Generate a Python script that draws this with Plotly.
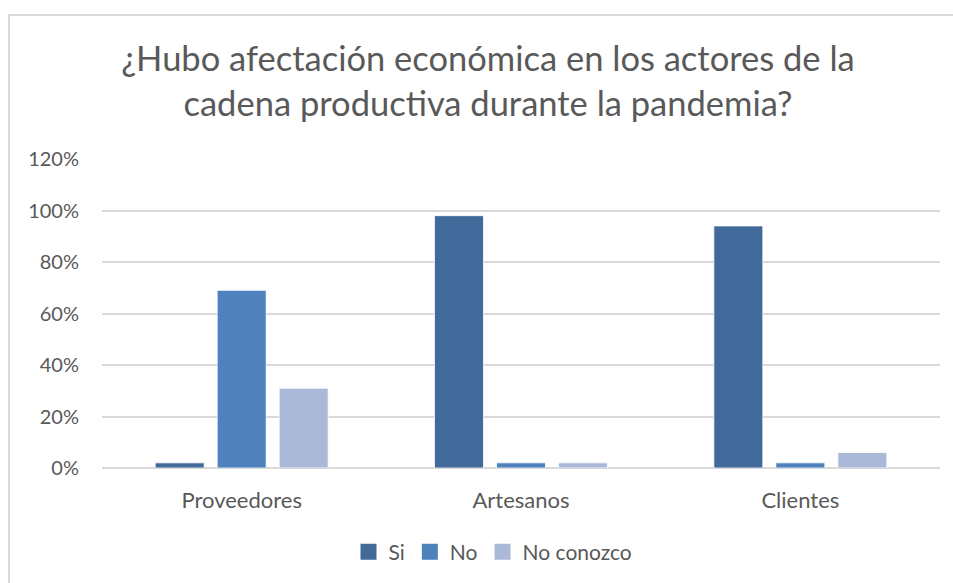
import plotly.graph_objects as go

categories = ["Proveedores", "Artesanos", "Clientes"]
si = [0.02, 0.98, 0.94]
no = [0.69, 0.02, 0.02]
no_conozco = [0.31, 0.02, 0.06]

TEXT = "#595959"
GRID = "#D9D9D9"
FONT = "Lato, Noto Sans, sans-serif"

series = [
    ("Si", si, "#41699A"),
    ("No", no, "#4F81BD"),
    ("No conozco", no_conozco, "#AAB9D7"),
]

fig = go.Figure()
for name, vals, color in series:
    fig.add_trace(go.Bar(
        x=categories, y=vals, name=name, showlegend=False,
        marker=dict(color=color, line=dict(color="white", width=0.8)),
    ))
# entradas de leyenda con cuadrados más grandes (como en Excel)
for name, vals, color in series:
    fig.add_trace(go.Scatter(
        x=[None], y=[None], name=name, mode="markers",
        marker=dict(symbol="square", size=16, color=color),
    ))

fig.update_layout(
    width=953, height=583,
    margin=dict(l=102, r=13, t=159, b=115),
    paper_bgcolor="white", plot_bgcolor="white",
    font=dict(family=FONT, size=21, color=TEXT),
    barmode="group", bargap=0.334, bargroupgap=0.21,
    title=dict(
        text="¿Hubo afectación económica en los actores de la<br>cadena productiva durante la pandemia?",
        font=dict(size=34.5, color=TEXT, family=FONT),
        x=488 / 953, xanchor="center", xref="container",
        y=1 - 71 / 583, yanchor="middle", yref="container",
    ),
    legend=dict(
        orientation="h", xref="container", yref="container",
        x=493 / 953, xanchor="center", y=1 - 552 / 583, yanchor="middle",
        font=dict(size=21, color=TEXT), itemwidth=30, tracegroupgap=0,
        itemsizing="trace",
    ),
    showlegend=True,
)

fig.update_yaxes(
    range=[0, 1.2], dtick=0.2, tickformat=".0%",
    showgrid=True, gridcolor=GRID, gridwidth=1.5,
    zeroline=True, zerolinecolor=GRID, zerolinewidth=1.5,
    showline=False, ticklabelstandoff=22, tickfont=dict(size=20, color=TEXT),
)
fig.update_xaxes(
    showgrid=False, showline=False, ticklabelstandoff=17,
    tickfont=dict(size=22, color=TEXT),
)

# marco del gráfico
fig.add_shape(
    type="rect", xref="paper", yref="paper",
    x0=(9 - 102) / 838, x1=(960 - 102) / 838,
    y0=(468 - 590) / 309, y1=(468 - 15) / 309,
    line=dict(color=GRID, width=2), fillcolor="rgba(0,0,0,0)", layer="below",
)

fig.write_html(
    "out.html",
    config={"displayModeBar": False},
    post_script="document.body.style.margin='0';",
)
